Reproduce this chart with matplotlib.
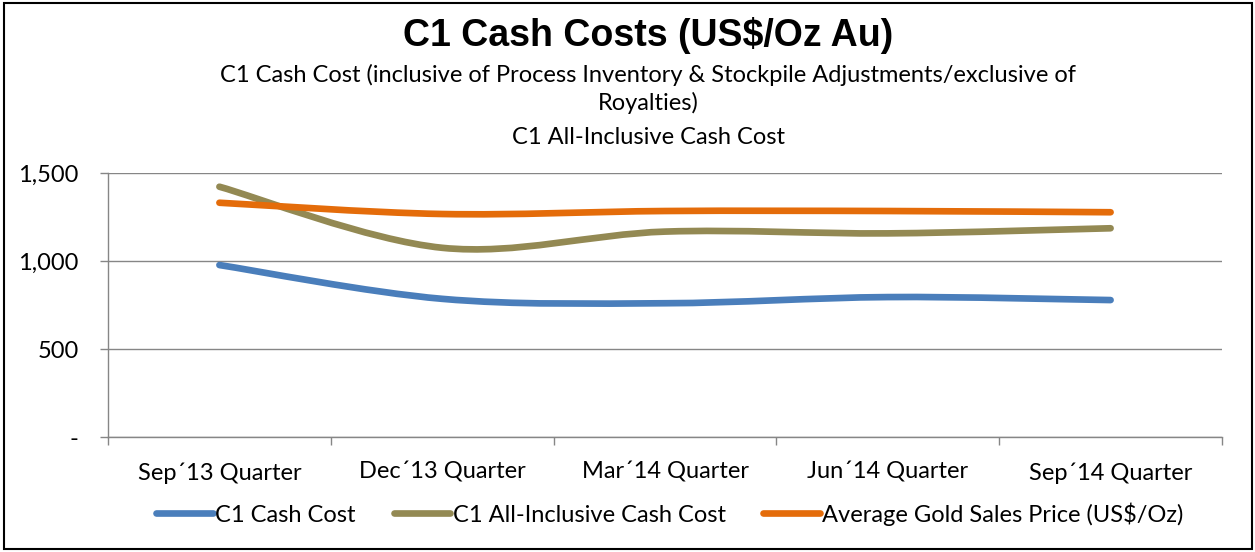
import matplotlib
matplotlib.use("Agg")
import matplotlib.pyplot as plt
import numpy as np
from matplotlib.path import Path
from matplotlib.patches import PathPatch, Rectangle
from matplotlib.lines import Line2D

quarters = ["Sep´13 Quarter", "Dec´13 Quarter", "Mar´14 Quarter", "Jun´14 Quarter", "Sep´14 Quarter"]
c1_cash_cost = [977, 785, 760, 795, 778]
c1_all_inclusive = [1422, 1075, 1167, 1157, 1186]
avg_gold_price = [1331, 1267, 1284, 1284, 1277]

series_names = ["C1 Cash Cost", "C1 All-Inclusive Cash Cost", "Average Gold Sales Price (US$/Oz)"]
colors = ["#4A7EBB", "#938953", "#E46C0A"]

font = "Lato"
fs = 17


def smooth_path(x, y):
    # excel style smoothed line: bezier segments through each point
    pts = np.column_stack([x, y]).astype(float)
    n = len(pts)
    verts = [pts[0]]
    codes = [Path.MOVETO]
    for i in range(n - 1):
        p0 = pts[i - 1] if i > 0 else pts[i]
        p1 = pts[i]
        p2 = pts[i + 1]
        p3 = pts[i + 2] if i + 2 < n else pts[i + 1]
        c1 = p1 + (p2 - p0) / 6
        c2 = p2 - (p3 - p1) / 6
        verts += [c1, c2, p2]
        codes += [Path.CURVE4] * 3
    return Path(verts, codes)


fig = plt.figure(figsize=(12.55, 5.52), dpi=100)
ax = fig.add_axes([108 / 1255, 1 - 437 / 552, (1222 - 108) / 1255, (437 - 173) / 552])

x = np.arange(len(quarters))
for vals, col in zip([c1_cash_cost, c1_all_inclusive, avg_gold_price], colors):
    patch = PathPatch(smooth_path(x, vals), facecolor="none", edgecolor=col,
                      lw=4.8, capstyle="round", joinstyle="round", zorder=3)
    ax.add_patch(patch)

ax.set_xlim(-0.5, len(quarters) - 0.5)
ax.set_ylim(0, 1500)
ax.set_yticks([0, 500, 1000, 1500])
ax.set_yticklabels(["-", "500", "1,000", "1,500"], fontsize=fs, family=font)
ax.set_xticks(x)
ax.set_xticklabels(quarters, fontsize=fs, family=font)
ax.set_xticks(np.arange(-0.5, len(quarters), 1.0), minor=True)
ax.tick_params(axis="x", which="major", length=0, pad=18)
ax.tick_params(axis="x", which="minor", length=6, color="#868686", width=1)
ax.tick_params(axis="y", length=6, color="#868686", width=1, pad=15)
ax.grid(axis="y", color="#868686", lw=1)
ax.set_axisbelow(True)
for s in ["top", "right"]:
    ax.spines[s].set_visible(False)
for s in ["left", "bottom"]:
    ax.spines[s].set_color("#868686")
    ax.spines[s].set_linewidth(1)

fig.text(648 / 1255, 1 - 35 / 552, "C1 Cash Costs (US$/Oz Au)", ha="center", va="center",
         fontsize=27, fontweight="bold", family="Liberation Sans")
fig.text(648 / 1255, 1 - 75 / 552,
         "C1 Cash Cost (inclusive of Process Inventory & Stockpile Adjustments/exclusive of",
         ha="center", va="center", fontsize=fs, family=font)
fig.text(648 / 1255, 1 - 103 / 552, "Royalties)", ha="center", va="center", fontsize=fs, family=font)
fig.text(648 / 1255, 1 - 138 / 552, "C1 All-Inclusive Cash Cost", ha="center", va="center",
         fontsize=fs, family=font)

handles = [Line2D([], [], color=c, lw=4.8, solid_capstyle="round") for c in colors]
fig.legend(handles, series_names, loc="center", bbox_to_anchor=(670 / 1255, 1 - 514 / 552), ncol=3,
           frameon=False, prop={"family": font, "size": fs}, handlelength=2.4,
           handletextpad=0.1, columnspacing=1.6)

fig.add_artist(Rectangle((4 / 1255, 3 / 552), 1248 / 1255, 546 / 552, transform=fig.transFigure,
                         fill=False, edgecolor="black", lw=1.5))

fig.savefig("out.png", dpi=100)
